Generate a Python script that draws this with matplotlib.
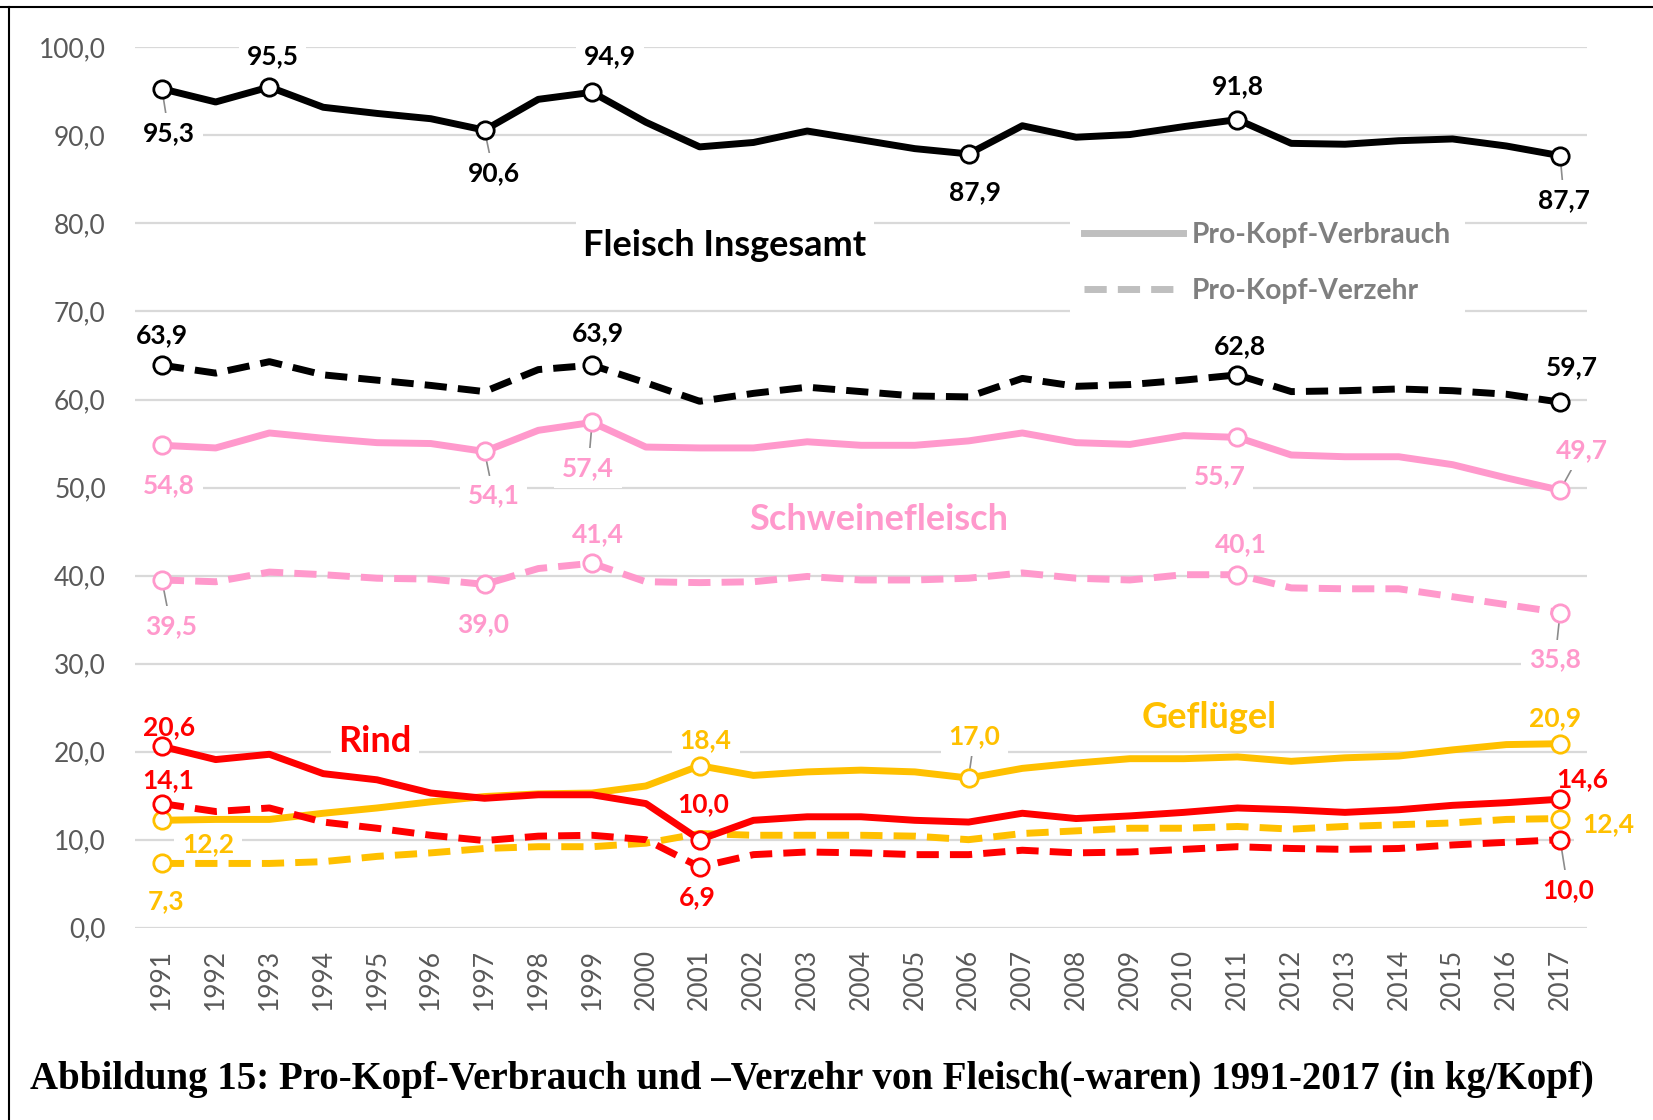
import matplotlib
matplotlib.use("Agg")
import matplotlib.pyplot as plt
from matplotlib.lines import Line2D

# ---------------- data ----------------
years = list(range(1991, 2018))
fleisch_verbrauch = [95.3, 93.8, 95.5, 93.2, 92.5, 91.9, 90.6, 94.1, 94.9, 91.5, 88.7, 89.2, 90.5, 89.5,
                     88.5, 87.9, 91.1, 89.8, 90.1, 91.0, 91.8, 89.1, 89.0, 89.4, 89.6, 88.8, 87.7]
fleisch_verzehr = [63.9, 63.0, 64.3, 62.8, 62.2, 61.6, 60.9, 63.4, 63.9, 61.9, 59.8, 60.7, 61.4, 60.9,
                   60.4, 60.3, 62.4, 61.5, 61.7, 62.2, 62.8, 60.9, 61.0, 61.2, 61.0, 60.6, 59.7]
schwein_verbrauch = [54.8, 54.5, 56.2, 55.6, 55.1, 55.0, 54.1, 56.5, 57.4, 54.6, 54.5, 54.5, 55.2, 54.8,
                     54.8, 55.3, 56.2, 55.1, 54.9, 55.9, 55.7, 53.7, 53.5, 53.5, 52.6, 51.1, 49.7]
schwein_verzehr = [39.5, 39.3, 40.4, 40.1, 39.7, 39.6, 39.0, 40.8, 41.4, 39.3, 39.2, 39.3, 39.9, 39.5,
                   39.5, 39.7, 40.3, 39.7, 39.5, 40.1, 40.1, 38.6, 38.5, 38.5, 37.6, 36.7, 35.8]
rind_verbrauch = [20.6, 19.1, 19.7, 17.5, 16.8, 15.3, 14.7, 15.1, 15.1, 14.1, 10.0, 12.2, 12.6, 12.6,
                  12.2, 12.0, 13.0, 12.4, 12.7, 13.1, 13.6, 13.4, 13.1, 13.4, 13.9, 14.2, 14.6]
rind_verzehr = [14.1, 13.2, 13.6, 12.0, 11.3, 10.5, 9.9, 10.4, 10.5, 10.0, 6.9, 8.3, 8.6, 8.5,
                8.3, 8.3, 8.8, 8.5, 8.6, 8.9, 9.2, 9.0, 8.9, 9.0, 9.4, 9.7, 10.0]
gefluegel_verbrauch = [12.2, 12.3, 12.3, 13.0, 13.6, 14.3, 14.9, 15.2, 15.3, 16.1, 18.4, 17.3, 17.7, 17.9,
                       17.7, 17.0, 18.1, 18.7, 19.2, 19.2, 19.4, 18.9, 19.3, 19.5, 20.2, 20.8, 20.9]
gefluegel_verzehr = [7.3, 7.3, 7.3, 7.5, 8.1, 8.5, 9.0, 9.2, 9.2, 9.6, 10.7, 10.5, 10.5, 10.5,
                     10.4, 10.0, 10.7, 11.0, 11.3, 11.3, 11.5, 11.2, 11.5, 11.7, 11.9, 12.3, 12.4]

y_ticks = [0, 10, 20, 30, 40, 50, 60, 70, 80, 90, 100]
legend_labels = ["Pro-Kopf-Verbrauch", "Pro-Kopf-Verzehr"]
caption = "Abbildung 15: Pro-Kopf-Verbrauch und \u2013Verzehr von Fleisch(-waren) 1991-2017 (in kg/Kopf)"

# labelled years per series: year -> (dx px, dy px, leader line)
series = [
    (fleisch_verbrauch, "#000000", "-", {1991: (7, -44, True), 1993: (3, 31, False), 1997: (9, -43, True),
                                         1999: (18, 36, False), 2006: (6, -38, False), 2011: (0, 33, False),
                                         2017: (4, -44, True)}),
    (fleisch_verzehr, "#000000", "--", {1991: (0, 30, False), 1999: (6, 32, False), 2011: (2, 29, False),
                                        2017: (12, 35, False)}),
    (schwein_verbrauch, "#FF99CC", "-", {1991: (7, -40, False), 1997: (9, -44, True), 1999: (-4, -46, True),
                                         2011: (-18, -39, False), 2017: (22, 40, True)}),
    (schwein_verzehr, "#FF99CC", "--", {1991: (9, -46, True), 1997: (-1, -40, False), 1999: (6, 29, False),
                                        2011: (3, 31, False), 2017: (-5, -47, True)}),
    (gefluegel_verbrauch, "#FFC000", "-", {1991: (46, -24, False), 2001: (6, 26, False), 2006: (6, 42, True),
                                           2017: (-5, 26, False)}),
    (gefluegel_verzehr, "#FFC000", "--", {1991: (4, -38, False), 2017: (48, -6, False)}),
    (rind_verbrauch, "#FF0000", "-", {1991: (7, 19, False), 2001: (4, 36, False), 2017: (22, 20, False)}),
    (rind_verzehr, "#FF0000", "--", {1991: (6, 23, False), 2001: (-2, -30, False), 2017: (8, -50, True)}),
]

W, H = 1653, 1120
fig = plt.figure(figsize=(W / 100, H / 100), dpi=100)
FONT = ["Lato", "DejaVu Sans"]
plt.rcParams["font.family"] = FONT


def fpx(x, y):
    """figure-pixel (from top-left) to figure fraction"""
    return x / W, 1 - y / H


ax = fig.add_axes([135 / W, 1 - 927.7 / H, (1587 - 135) / W, (927.7 - 47.4) / H])
ax.set_xlim(1990.5, 2017.5)
ax.set_ylim(0, 100)
ax.set_yticks(y_ticks)
ax.set_yticklabels([f"{v:.1f}".replace(".", ",") for v in y_ticks])
ax.set_xticks(years)
ax.set_xticklabels([str(y) for y in years], rotation=90)
for s in ax.spines.values():
    s.set_visible(False)
ax.tick_params(axis="both", length=0, labelsize=19, labelcolor="#595959")
ax.tick_params(axis="y", pad=21)
ax.tick_params(axis="x", pad=15)
ax.yaxis.grid(True, color="#d9d9d9", lw=1.6, zorder=0)
ax.set_axisbelow(True)

for vals, col, ls, labs in series:
    if ls == "-":
        ax.plot(years, vals, color=col, lw=5, solid_joinstyle="round", solid_capstyle="round", zorder=3)
    else:
        ax.plot(years, vals, color=col, lw=5, dashes=(3.2, 1.6), dash_joinstyle="round", zorder=3)
    for yr, (dx, dy, lead) in labs.items():
        v = vals[years.index(yr)]
        ax.plot([yr], [v], marker="o", ms=12.5, mfc="white", mec=col, mew=2, zorder=4, ls="none")
        ap = dict(arrowstyle="-", color="#8c8c8c", lw=1.2, shrinkA=0, shrinkB=7) if lead else None
        ax.annotate(f"{v:.1f}".replace(".", ","), xy=(yr, v), xytext=(dx, dy), textcoords="offset pixels",
                    ha="center", va="center", fontsize=19, fontweight="bold", color=col, zorder=2,
                    bbox=dict(boxstyle="square,pad=0.3", fc="white", ec="none"),
                    arrowprops=ap)

# series name labels
names = [("Fleisch Insgesamt", "#000000", 725, 245), ("Schweinefleisch", "#FF99CC", 879, 519),
         ("Rind", "#FF0000", 375, 741), ("Gefl\u00fcgel", "#FFC000", 1209, 718)]
for txt, col, x, y in names:
    fig.text(*fpx(x, y), txt, ha="center", va="center", fontsize=26, fontweight="bold", color=col,
             zorder=2, bbox=dict(boxstyle="square,pad=0.2", fc="white", ec="none"))

# legend
handles = [Line2D([], [], color="#bfbfbf", lw=5),
           Line2D([], [], color="#bfbfbf", lw=5, dashes=(3.2, 1.6))]
leg = fig.legend(handles, legend_labels, loc="upper left", bbox_to_anchor=fpx(1056, 194),
                 frameon=True, handlelength=3.5, handletextpad=0.3, labelspacing=1.05,
                 borderpad=0.5, prop=dict(family=FONT, weight="bold", size=20.3))
leg.get_frame().set_facecolor("white")
leg.get_frame().set_edgecolor("none")
leg.get_frame().set_alpha(1)
for t in leg.get_texts():
    t.set_color("#7f7f7f")

# frame lines
fig.add_artist(Line2D([0, 1], [1 - 6.5 / H, 1 - 6.5 / H], transform=fig.transFigure, color="black", lw=1.5))
fig.add_artist(Line2D([8.5 / W, 8.5 / W], [0, 1 - 6.5 / H], transform=fig.transFigure, color="black", lw=1.5))

# caption
fig.text(*fpx(30, 1080), caption, ha="left", va="center", fontsize=28, fontweight="bold",
         family=["Liberation Serif", "DejaVu Serif"], color="black")

fig.savefig("out.png", dpi=100, facecolor="white")
